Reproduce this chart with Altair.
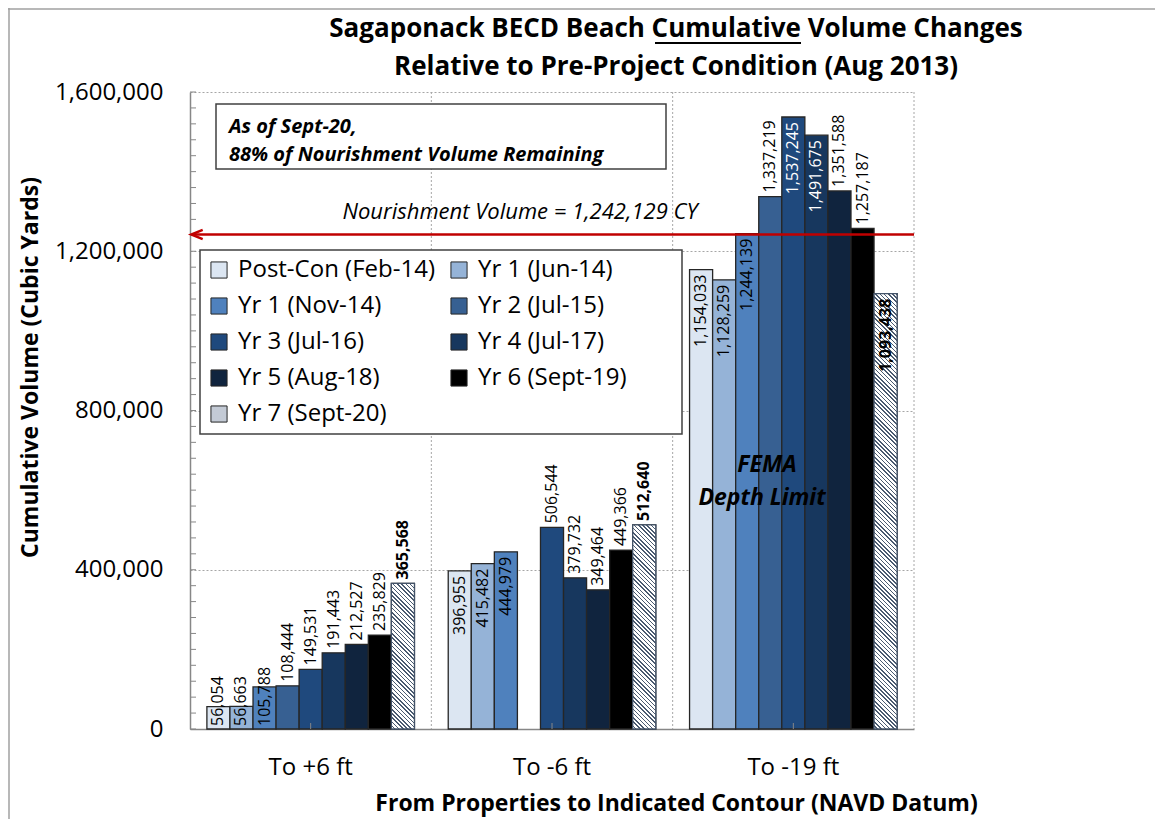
import altair as alt
import pandas as pd

# ---------------- data ----------------
groups = ["To +6 ft", "To -6 ft", "To -19 ft"]
series = ["Post-Con (Feb-14)", "Yr 1 (Jun-14)", "Yr 1 (Nov-14)", "Yr 2 (Jul-15)",
          "Yr 3 (Jul-16)", "Yr 4 (Jul-17)", "Yr 5 (Aug-18)", "Yr 6 (Sept-19)",
          "Yr 7 (Sept-20)"]
colors = ["#dce6f2", "#95b3d7", "#4f81bd", "#376092", "#1f497d", "#17375e",
          "#10243e", "#000000", "#c3cad5"]
to_plus6 = [56054, 56663, 105788, 108444, 149531, 191443, 212527, 235829, 365568]
to_minus6 = [396955, 415482, 444979, None, 506544, 379732, 349464, 449366, 512640]
to_minus19 = [1154033, 1128259, 1244139, 1337219, 1537245, 1491675, 1351588,
              1257187, 1093438]
y_ticks = [0, 400000, 800000, 1200000, 1600000]
minor_ticks = list(range(0, 1600001, 40000))
nourishment = 1242129
boundaries = [1, 2, 3]
title_lines = ["Sagaponack BECD Beach Cumulative Volume Changes",
               "Relative to Pre-Project Condition (Aug 2013)"]

# label placement styles (Excel-like)
base_labels = {("To +6 ft", s) for s in series[:3]}
inside_labels = ({("To -6 ft", s) for s in series[:3]} |
                 {("To -19 ft", s) for s in series[:3]} |
                 {("To -19 ft", series[4]), ("To -19 ft", series[5]),
                  ("To -19 ft", series[8])})
white_labels = {("To -19 ft", series[4]), ("To -19 ft", series[5])}

rows = []
for g, vals in zip(groups, [to_plus6, to_minus6, to_minus19]):
    for s, v in zip(series, vals):
        if v is None:
            continue
        key = (g, s)
        pos = "base" if key in base_labels else ("in" if key in inside_labels else "out")
        rows.append({"group": g, "series": s, "value": v, "label": f"{v:,}",
                     "pos": pos, "bold": s == series[8],
                     "lc": "white" if key in white_labels else "black"})
df = pd.DataFrame(rows)

W, H = 724, 637
YMAX = 1600000
FONT = "Open Sans"

x_enc = alt.X("group:N", scale=alt.Scale(domain=groups, paddingInner=0.14, paddingOuter=0.07),
              axis=alt.Axis(title="From Properties to Indicated Contour (NAVD Datum)",
                            titleX=486, titleY=74, titleFont=FONT, titleFontSize=23,
                            titleFontWeight="bold", titleColor="black", titleBaseline="middle",
                            labelFont=FONT, labelFontSize=24, labelColor="black",
                            labelAngle=0, labelPadding=26, ticks=False, tickSize=0,
                            grid=False, domainColor="#878787", domainWidth=1.5))
xo_enc = alt.XOffset("series:N", scale=alt.Scale(domain=series, paddingInner=0, paddingOuter=0))
y_scale = alt.Scale(domain=[0, YMAX], nice=False)
y_axis = alt.Axis(values=y_ticks, format=",d", title="Cumulative Volume (Cubic Yards)",
                  titleX=-160, titleY=275, titleAngle=270, titleAlign="center",
                  titleBaseline="middle", titleFont=FONT, titleFontSize=23,
                  titleFontWeight="bold", titleColor="black",
                  labelFont=FONT, labelFontSize=24, labelColor="black",
                  labelPadding=27, ticks=False, tickSize=0,
                  domainColor="#878787", domainWidth=1.5,
                  gridColor="#a6a6a6", gridDash=[2, 2], gridWidth=1)
y_enc = alt.Y("value:Q", scale=y_scale, axis=y_axis)

one = pd.DataFrame({"a": [0]})
# legend frame (drawn under the legend entries, over the grid)
legend_box = alt.Chart(one).mark_rect(fill="white", stroke="#404040", strokeWidth=1.5).encode(
    x=alt.value(10), x2=alt.value(492), y=alt.value(158), y2=alt.value(342))

bars = alt.Chart(df).mark_bar(stroke="#262626", strokeWidth=1.3).encode(
    x=x_enc, xOffset=xo_enc, y=y_enc,
    color=alt.Color("series:N", scale=alt.Scale(domain=series, range=colors),
                    legend=alt.Legend(title=None, orient="none", legendX=13, legendY=162,
                                      direction="horizontal", columns=2, gridAlign="all",
                                      symbolType="square",
                                      symbolSize=260, symbolStrokeColor="#262626",
                                      symbolStrokeWidth=1, labelFont=FONT, labelFontSize=24,
                                      labelColor="black", labelOffset=7, labelLimit=400,
                                      rowPadding=12, columnPadding=12, padding=4)))

# hatched overlay for Yr 7 bars (diagonal stripes via a hard-stop linear gradient)
slot_w = W / 3 * 0.86 / len(series)


def hatch(v):
    h = v / YMAX * H
    w = slot_w
    k = (w + h) / (w * w + h * h)
    n = int((w + h) / 4.2)
    stops = []
    for i in range(n):
        a = i / n
        b = (i + 0.64) / n
        c = (i + 1) / n
        stops += [{"offset": a, "color": "#ffffff"}, {"offset": b, "color": "#ffffff"},
                  {"offset": b, "color": "#4a5a70"}, {"offset": c, "color": "#4a5a70"}]
    return {"gradient": "linear", "x1": 0, "y1": 1, "x2": k * w, "y2": 1 - k * h,
            "stops": stops}


hatched = []
for g in groups:
    sub = df[(df.group == g) & (df.series == series[8])]
    hatched.append(alt.Chart(sub).mark_bar(fill=hatch(float(sub.value.iloc[0])),
                                           stroke="#44546a", strokeWidth=1.3).encode(
        x=x_enc, xOffset=xo_enc, y=y_enc))


def label_layer(pos, bold):
    sub = df[(df.pos == pos) & (df.bold == bold)]
    if pos == "out":
        mk = dict(align="left", dx=4)
        yy = y_enc
    elif pos == "in":
        mk = dict(align="right", dx=-5)
        yy = y_enc
    else:
        mk = dict(align="left", dx=3)
        yy = alt.YDatum(0, scale=y_scale, axis=y_axis)
    return alt.Chart(sub).mark_text(angle=270, baseline="middle", font=FONT, fontSize=16,
                                    fontWeight="bold" if bold else "normal", **mk).encode(
        x=x_enc, xOffset=xo_enc, y=yy, text="label:N",
        fill=alt.Fill("lc:N", scale=None))


labels = [label_layer(p, b) for p in ["out", "in", "base"] for b in [False, True]
          if len(df[(df.pos == p) & (df.bold == b)])]

minor = alt.Chart(pd.DataFrame({"t": minor_ticks})).mark_rule(color="#878787", strokeWidth=1).encode(
    y=alt.Y("t:Q", scale=y_scale, axis=y_axis), x=alt.value(0), x2=alt.value(6))
center_ticks = alt.Chart(pd.DataFrame({"group": groups})).mark_rule(color="#878787", strokeWidth=1).encode(
    x=x_enc, y=alt.value(H - 6), y2=alt.value(H))

red_line = alt.Chart(one).mark_rule(color="#c00000", strokeWidth=2.5).encode(
    y=alt.YDatum(nourishment, scale=y_scale, axis=y_axis), x=alt.value(2), x2=alt.value(W))
arrow = alt.Chart(one).mark_point(shape="M1,-0.8L-1,0L1,0.8", filled=False, stroke="#c00000",
                                  strokeWidth=2.5, size=130, opacity=1).encode(
    y=alt.YDatum(nourishment, scale=y_scale, axis=y_axis), x=alt.value(7))
nour_text = alt.Chart(one).mark_text(text="Nourishment Volume = 1,242,129 CY", font=FONT,
                                     fontSize=22, fontStyle="italic", color="black").encode(
    x=alt.value(330), y=alt.value(120))

box = alt.Chart(one).mark_rect(fill="white", stroke="#404040", strokeWidth=1.5).encode(
    x=alt.value(26), x2=alt.value(476), y=alt.value(12), y2=alt.value(77))
box_t1 = alt.Chart(one).mark_text(text="As of Sept-20,", align="left", font=FONT, fontSize=20,
                                  fontWeight="bold", fontStyle="italic", color="black").encode(
    x=alt.value(39), y=alt.value(35))
box_t2 = alt.Chart(one).mark_text(text="88% of Nourishment Volume Remaining", align="left",
                                  font=FONT, fontSize=20, fontWeight="bold", fontStyle="italic",
                                  color="black").encode(x=alt.value(39), y=alt.value(63))
fema1 = alt.Chart(one).mark_text(text="FEMA", font=FONT, fontSize=23, fontWeight="bold",
                                 fontStyle="italic", color="black").encode(
    x=alt.value(577), y=alt.value(373))
fema2 = alt.Chart(one).mark_text(text="Depth Limit", font=FONT, fontSize=23, fontWeight="bold",
                                 fontStyle="italic", color="black").encode(
    x=alt.value(572), y=alt.value(406))
title1 = alt.Chart(one).mark_text(text=title_lines[0], font=FONT, fontSize=26, fontWeight="bold",
                                  color="black").encode(x=alt.value(486), y=alt.value(-63))
title2 = alt.Chart(one).mark_text(text=title_lines[1], font=FONT, fontSize=26, fontWeight="bold",
                                  color="black").encode(x=alt.value(486), y=alt.value(-25))
underline = alt.Chart(one).mark_rule(color="black", strokeWidth=2).encode(
    x=alt.value(465), x2=alt.value(611), y=alt.value(-49))
frame_left = alt.Chart(one).mark_rule(color="#a0a0a0", strokeWidth=1.5).encode(
    x=alt.value(-181), y=alt.value(-84), y2=alt.value(727))
frame_top = alt.Chart(one).mark_rule(color="#a0a0a0", strokeWidth=1.5).encode(
    x=alt.value(-182), x2=alt.value(965), y=alt.value(-83))

inner = alt.layer(legend_box, bars, *hatched, *labels, minor, center_ticks, red_line, arrow,
                  nour_text, box, box_t1, box_t2, fema1, fema2, title1, title2, underline,
                  frame_left, frame_top)

grid_v = alt.Chart(pd.DataFrame({"b": boundaries})).mark_rule(
    color="#a6a6a6", strokeDash=[2, 2], strokeWidth=1).encode(
    x=alt.X("b:Q", scale=alt.Scale(domain=[0, 3], nice=False), axis=None))

chart = alt.layer(grid_v, inner).resolve_scale(x="independent").properties(
    width=W, height=H,
    padding={"left": 182, "top": 84, "right": 241, "bottom": 90},
    autosize=alt.AutoSizeParams(type="none"),
    background="white",
).configure_view(stroke=None)

chart.save("out.html", embed_options={"renderer": "svg", "actions": False})
